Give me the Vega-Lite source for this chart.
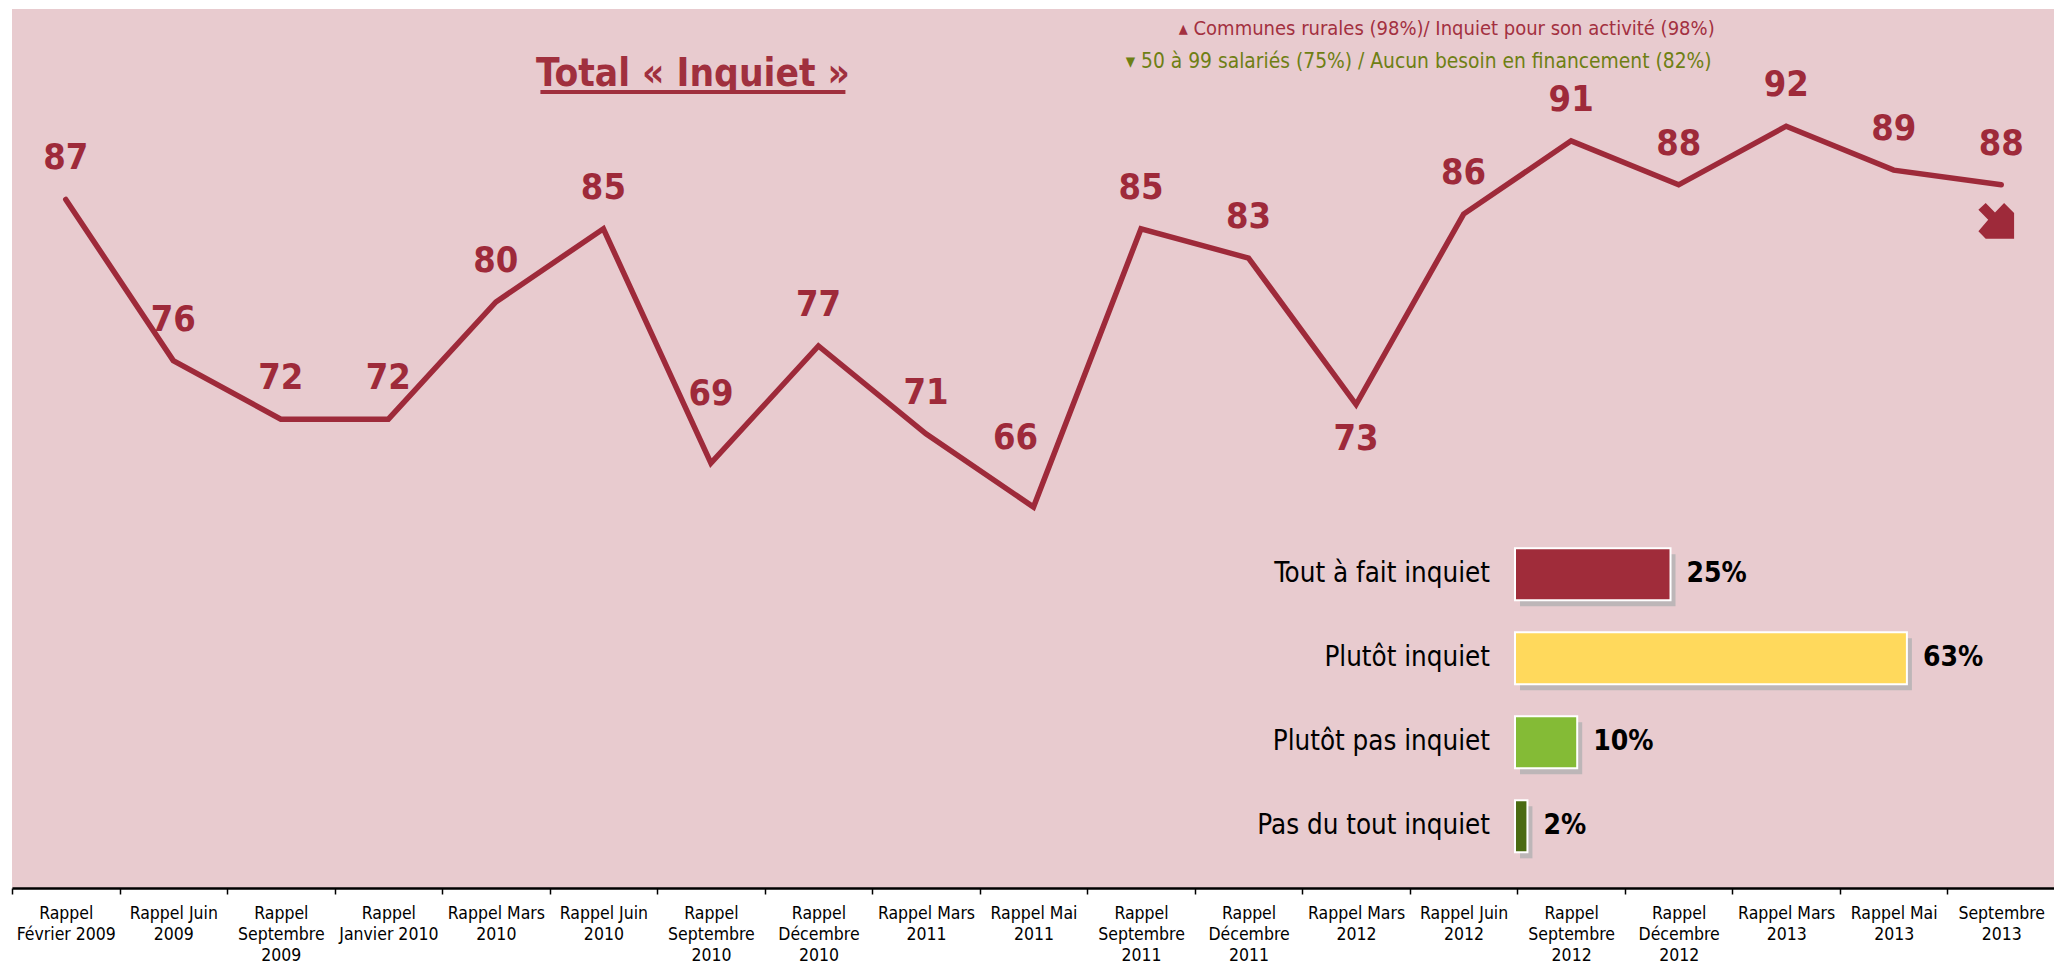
{
  "$schema": "https://vega.github.io/schema/vega-lite/v6.json",
  "width": 2043,
  "height": 879,
  "padding": {"left": 11, "top": 9, "right": 0, "bottom": 0},
  "background": "white",
  "config": {
    "view": {"fill": "#E8CBCF", "stroke": null},
    "font": "DejaVu Sans Condensed",
    "text": {"font": "DejaVu Sans Condensed"}
  },
  "datasets": {
    "evolution": [
      {"periode": "Rappel\nFévrier 2009", "total": 87},
      {"periode": "Rappel Juin\n2009", "total": 76},
      {"periode": "Rappel\nSeptembre\n2009", "total": 72},
      {"periode": "Rappel\nJanvier 2010", "total": 72},
      {"periode": "Rappel Mars\n2010", "total": 80},
      {"periode": "Rappel Juin\n2010", "total": 85},
      {"periode": "Rappel\nSeptembre\n2010", "total": 69},
      {"periode": "Rappel\nDécembre\n2010", "total": 77},
      {"periode": "Rappel Mars\n2011", "total": 71},
      {"periode": "Rappel Mai\n2011", "total": 66},
      {"periode": "Rappel\nSeptembre\n2011", "total": 85},
      {"periode": "Rappel\nDécembre\n2011", "total": 83},
      {"periode": "Rappel  Mars\n2012", "total": 73},
      {"periode": "Rappel Juin\n2012", "total": 86},
      {"periode": "Rappel\nSeptembre\n2012", "total": 91},
      {"periode": "Rappel\nDécembre\n2012", "total": 88},
      {"periode": "Rappel Mars\n2013", "total": 92},
      {"periode": "Rappel Mai\n2013", "total": 89},
      {"periode": "Septembre\n2013", "total": 88}
    ],
    "repartition": [
      {"niveau": "Tout à fait inquiet", "pct": 0.25},
      {"niveau": "Plutôt inquiet", "pct": 0.63},
      {"niveau": "Plutôt pas inquiet", "pct": 0.10},
      {"niveau": "Pas du tout inquiet", "pct": 0.02}
    ]
  },
  "layer": [
    {
      "data": {"name": "evolution"},
      "encoding": {
        "x": {
          "field": "periode",
          "type": "nominal",
          "sort": null,
          "scale": {"type": "band", "paddingInner": 0, "paddingOuter": 0},
          "axis": {
            "title": null,
            "labelExpr": "datum.value ? split(datum.value, '\\n') : ''",
            "labelAngle": 0,
            "labelFont": "DejaVu Sans Condensed",
            "labelFontSize": 17.5,
            "labelColor": "black",
            "labelLineHeight": 21,
            "labelPadding": 10,
            "labelBaseline": "top",
            "labelLimit": 0,
            "labelOverlap": false,
            "tickBand": "extent",
            "tickSize": 6,
            "tickColor": "black",
            "tickWidth": 1.5,
            "domainColor": "black",
            "domainWidth": 2.5,
            "grid": false
          }
        },
        "y": {
          "field": "total",
          "type": "quantitative",
          "scale": {"domain": [40, 100], "zero": false, "nice": false},
          "axis": null
        }
      },
      "layer": [
        {
          "mark": {"type": "line", "color": "#9E2A3A", "strokeWidth": 5.5, "strokeCap": "round", "strokeJoin": "miter"}
        },
        {
          "transform": [{"filter": {"not": {"field": "periode", "oneOf": ["Rappel\nSeptembre\n2010", "Rappel Mai\n2011", "Rappel  Mars\n2012"]}}}],
          "mark": {"type": "text", "dy": -41, "fontSize": 36, "fontWeight": "bold", "color": "#9E2A3A", "baseline": "middle"},
          "encoding": {"text": {"field": "total"}}
        },
        {
          "transform": [{"filter": {"field": "periode", "equal": "Rappel\nSeptembre\n2010"}}],
          "mark": {"type": "text", "dy": -69, "fontSize": 36, "fontWeight": "bold", "color": "#9E2A3A", "baseline": "middle"},
          "encoding": {"text": {"field": "total"}}
        },
        {
          "transform": [{"filter": {"field": "periode", "equal": "Rappel Mai\n2011"}}],
          "mark": {"type": "text", "dy": -69, "dx": -18, "fontSize": 36, "fontWeight": "bold", "color": "#9E2A3A", "baseline": "middle"},
          "encoding": {"text": {"field": "total"}}
        },
        {
          "transform": [{"filter": {"field": "periode", "equal": "Rappel  Mars\n2012"}}],
          "mark": {"type": "text", "dy": 34, "fontSize": 36, "fontWeight": "bold", "color": "#9E2A3A", "baseline": "middle"},
          "encoding": {"text": {"field": "total"}}
        },
        {
          "transform": [{"filter": {"field": "periode", "equal": "Septembre\n2013"}}],
          "mark": {
            "type": "point",
            "shape": "M-1,-0.62 L-0.59,-1 L-0.07,-0.47 L0.44,-1 L1,-0.43 L1,1 L-0.59,1 L-1,0.58 L-0.45,-0.06 Z",
            "filled": true,
            "color": "#9E2A3A",
            "opacity": 1,
            "size": 1275,
            "xOffset": -5,
            "yOffset": 36
          }
        },
        {
          "transform": [{"filter": {"field": "periode", "equal": "Rappel\nSeptembre\n2010"}}],
          "mark": {"type": "text", "text": "Total « Inquiet »", "fontSize": 38.5, "fontWeight": "bold", "color": "#A0303E", "baseline": "alphabetic", "align": "center", "dx": -18},
          "encoding": {"y": {"datum": 94.74}}
        },
        {
          "transform": [{"filter": {"field": "periode", "equal": "Rappel\nSeptembre\n2010"}}],
          "mark": {"type": "tick", "orient": "horizontal", "color": "#A0303E", "opacity": 1, "size": 305, "thickness": 4, "xOffset": -18},
          "encoding": {"y": {"datum": 94.33}}
        },
        {
          "transform": [{"filter": {"field": "periode", "equal": "Rappel\nDécembre\n2012"}}],
          "mark": {"type": "text", "text": "▴ Communes rurales (98%)/ Inquiet pour son activité (98%)", "fontSize": 20, "color": "#A3303F", "align": "right", "baseline": "middle", "dx": 36},
          "encoding": {"y": {"datum": 98.63}}
        },
        {
          "transform": [{"filter": {"field": "periode", "equal": "Rappel\nDécembre\n2012"}}],
          "mark": {"type": "text", "text": "▾  50 à 99 salariés (75%) / Aucun besoin en financement (82%)", "fontSize": 20.8, "color": "#6E7F14", "align": "right", "baseline": "middle", "dx": 33},
          "encoding": {"y": {"datum": 96.4}}
        }
      ]
    },
    {
      "data": {"name": "repartition"},
      "encoding": {
        "y": {
          "field": "niveau",
          "type": "nominal",
          "sort": null,
          "scale": {"type": "band", "range": [523.3, 859.3], "paddingInner": 0.38, "paddingOuter": 0.19},
          "axis": null
        },
        "x": {
          "field": "pct",
          "type": "quantitative",
          "scale": {"domain": [0, 0.63], "range": [1503, 1894.9], "nice": false, "zero": false},
          "axis": null
        }
      },
      "layer": [
        {
          "mark": {"type": "bar", "color": "#BDB6B8", "xOffset": 5, "yOffset": 6}
        },
        {
          "mark": {"type": "bar", "stroke": "white", "strokeWidth": 2},
          "encoding": {
            "color": {
              "field": "niveau",
              "type": "nominal",
              "scale": {
                "domain": ["Tout à fait inquiet", "Plutôt inquiet", "Plutôt pas inquiet", "Pas du tout inquiet"],
                "range": ["#A02C3A", "#FFD95C", "#84BB36", "#4A6B12"]
              },
              "legend": null
            }
          }
        },
        {
          "mark": {"type": "text", "align": "left", "baseline": "middle", "dx": 16, "fontSize": 28, "fontWeight": "bold", "color": "black"},
          "encoding": {"text": {"field": "pct", "type": "quantitative", "format": ".0%"}}
        },
        {
          "mark": {"type": "text", "align": "right", "baseline": "middle", "dx": -25, "fontSize": 27.5, "color": "black"},
          "encoding": {"x": {"datum": 0}, "text": {"field": "niveau"}}
        }
      ]
    }
  ],
  "resolve": {"scale": {"x": "independent", "y": "independent", "color": "independent"}}
}
